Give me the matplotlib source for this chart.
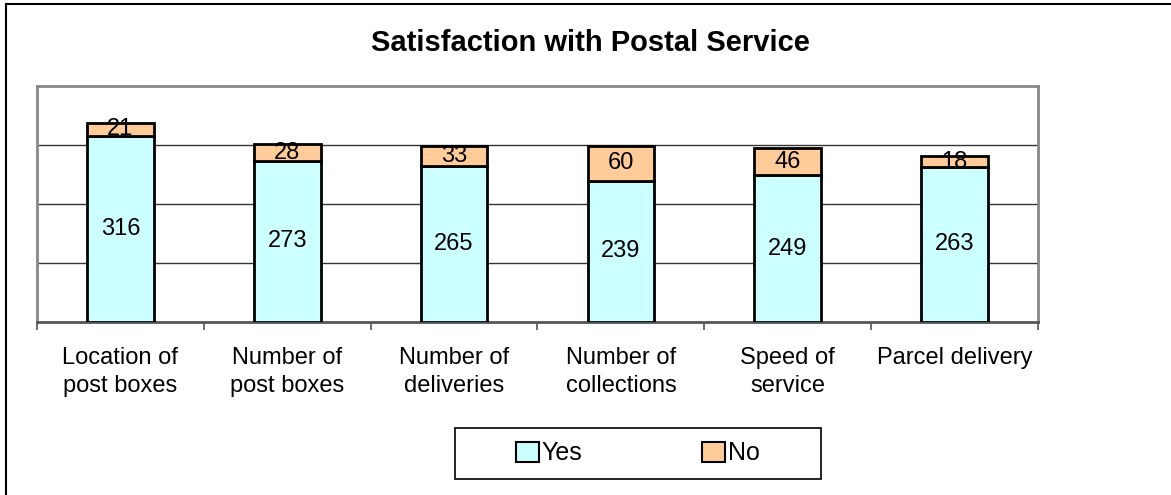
import numpy as np
import matplotlib.pyplot as plt
from matplotlib.patches import Patch, Rectangle
from matplotlib.lines import Line2D

plt.rcParams['font.family'] = ['Liberation Sans', 'DejaVu Sans']

categories = ["Location of\npost boxes", "Number of\npost boxes", "Number of\ndeliveries",
              "Number of\ncollections", "Speed of\nservice", "Parcel delivery"]
yes_vals = [316, 273, 265, 239, 249, 263]
no_vals = [21, 28, 33, 60, 46, 18]
yes_col = "#CCFFFF"
no_col = "#FFCC99"

W, H = 1171, 495
fig = plt.figure(figsize=(W / 100, H / 100), dpi=100)
ax = fig.add_axes([37 / W, (H - 322) / H, 1001 / W, 236 / H])

x = np.arange(len(categories))
ax.bar(x, yes_vals, width=0.4, color=yes_col, edgecolor="black", linewidth=2, zorder=3)
ax.bar(x, no_vals, bottom=yes_vals, width=0.4, color=no_col, edgecolor="black", linewidth=2, zorder=3)

for i in range(len(x)):
    ax.text(x[i], yes_vals[i] / 2, str(yes_vals[i]), ha="center", va="center", fontsize=17, zorder=4)
    ax.text(x[i], yes_vals[i] + no_vals[i] / 2, str(no_vals[i]), ha="center", va="center", fontsize=17, zorder=4)

ax.set_xlim(-0.5, len(x) - 0.5)
ax.set_ylim(0, 400)
ax.set_yticks([])
for g in [100, 200, 300]:
    ax.axhline(g, color="#333333", linewidth=1, zorder=1)

ax.set_xticks(np.arange(len(x) + 1) - 0.5)
ax.set_xticklabels([])
ax.set_xticks(x, minor=True)
ax.set_xticklabels(categories, minor=True, fontsize=17, linespacing=1.35)
ax.tick_params(axis="x", which="major", direction="out", length=6, width=1.2, color="#555555")
ax.tick_params(axis="x", which="minor", length=0, pad=18)

for s in ["top", "left", "right"]:
    ax.spines[s].set_color("#888888")
    ax.spines[s].set_linewidth(2)
ax.spines["bottom"].set_color("#555555")
ax.spines["bottom"].set_linewidth(2)

fig.text(590 / W, 1 - 43 / H, "Satisfaction with Postal Service", ha="center", va="center",
         fontsize=21, fontweight="bold")

handles = [Patch(facecolor=yes_col, edgecolor="black", linewidth=1.5, label="Yes"),
           Patch(facecolor=no_col, edgecolor="black", linewidth=1.5, label="No")]
fig.legend(handles=handles, loc="center", bbox_to_anchor=(638 / W, 1 - 453.5 / H), ncol=2,
           frameon=False, fontsize=18, handlelength=0.9, handleheight=0.9,
           handletextpad=0.12, columnspacing=4.8, borderaxespad=0)
fig.add_artist(Rectangle((455 / W, 1 - 479 / H), 366 / W, 51 / H, transform=fig.transFigure,
                         facecolor="none", edgecolor="black", linewidth=1.2))

fig.add_artist(Line2D([6 / W, 6 / W], [0, 1 - 4 / H], color="black", linewidth=1.5))
fig.add_artist(Line2D([6 / W, 1], [1 - 4 / H, 1 - 4 / H], color="black", linewidth=1.5))

fig.savefig("out.png", dpi=100)
